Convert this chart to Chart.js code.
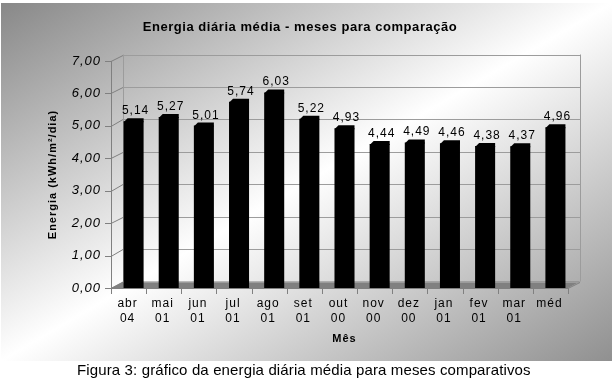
<!DOCTYPE html>
<html>
<head>
<meta charset="utf-8">
<script src="https://cdn.jsdelivr.net/npm/chart.js@4.4.0/dist/chart.umd.min.js"></script>
<style>
  body { margin: 0; background: #fff; }
  #wrap { position: relative; width: 615px; height: 379px; }
  #grafico { display: block; }
  #legenda {
    position: absolute; left: 77px; top: 361px;
    font: 15px "Liberation Sans", Arial, sans-serif; line-height: 17px; color: #000;
    letter-spacing: 0.13px; white-space: nowrap;
  }
</style>
</head>
<body>
<div id="wrap">
  <canvas id="grafico" width="615" height="379"></canvas>
  <div id="legenda">Figura 3: gráfico da energia diária média para meses comparativos</div>
</div>
<script>
// dados
const meses = ["abr", "mai", "jun", "jul", "ago", "set", "out", "nov", "dez", "jan", "fev", "mar", "méd"];
const anos = ["04", "01", "01", "01", "01", "01", "00", "00", "00", "01", "01", "01", ""];
const energia = [5.14, 5.27, 5.01, 5.74, 6.03, 5.22, 4.93, 4.44, 4.49, 4.46, 4.38, 4.37, 4.96];
const yMin = 0, yMax = 7, yPasso = 1;

const titulo = "Energia diária média - meses para comparação";
const fmt = (v) => v.toFixed(2).replace(".", ",");

Chart.defaults.font.family = "'Liberation Sans', Arial, sans-serif";
Chart.defaults.color = "#000";

const dx = 12, dy = -6.5; // profundidade do "3D"

const fundo3d = {
  id: "fundo3d",
  beforeDraw(chart) {
    const ctx = chart.ctx;
    ctx.save();
    ctx.translate(1, 3);
    ctx.scale(611, 358);
    const g = ctx.createLinearGradient(0, 0, 1, 1);
    g.addColorStop(0, "#888888");
    g.addColorStop(0.5, "#ffffff");
    g.addColorStop(1, "#909090");
    ctx.fillStyle = g;
    ctx.fillRect(0, 0, 1, 1);
    ctx.restore();
    ctx.letterSpacing = "1px";
  },
  beforeDatasetsDraw(chart) {
    const { ctx, chartArea: a, scales: { x, y } } = chart;
    const fl = a.left - 5, fr = a.right - 5; // plano da frente
    const base = y.getPixelForValue(yMin);
    const topo = y.getPixelForValue(yMax);
    const r = (v) => Math.round(v) + 0.5;
    ctx.save();
    ctx.lineWidth = 1;

    // chão
    ctx.fillStyle = "#808080";
    ctx.beginPath();
    ctx.moveTo(fl, base);
    ctx.lineTo(fr, base);
    ctx.lineTo(fr + dx, base + dy);
    ctx.lineTo(fl + dx, base + dy);
    ctx.closePath();
    ctx.fill();

    // grade da parede do fundo
    ctx.strokeStyle = "#9c9c9c";
    y.ticks.forEach((t) => {
      const py = y.getPixelForValue(t.value);
      ctx.beginPath();
      ctx.moveTo(fl + dx, r(py + dy));
      ctx.lineTo(fr + dx, r(py + dy));
      ctx.stroke();
    });
    ctx.beginPath();
    ctx.moveTo(r(fl + dx), topo + dy);
    ctx.lineTo(r(fl + dx), base + dy);
    ctx.moveTo(r(fr + dx), topo + dy);
    ctx.lineTo(r(fr + dx), base + dy);
    ctx.stroke();

    // parede lateral e eixo y da frente
    ctx.strokeStyle = "#808080";
    y.ticks.forEach((t) => {
      const py = y.getPixelForValue(t.value);
      ctx.beginPath();
      ctx.moveTo(fl - 6, r(py));
      ctx.lineTo(fl, r(py));
      ctx.lineTo(fl + dx, r(py + dy));
      ctx.stroke();
    });
    ctx.beginPath();
    ctx.moveTo(r(fl), topo);
    ctx.lineTo(r(fl), base);
    ctx.stroke();

    // eixo x da frente
    ctx.beginPath();
    ctx.moveTo(fl, r(base));
    ctx.lineTo(fr, r(base));
    ctx.lineTo(fr + dx, r(base + dy));
    const larg = a.width / meses.length;
    for (let i = 0; i <= meses.length; i++) {
      const px = r(a.left + i * larg - 5);
      ctx.moveTo(px, base);
      ctx.lineTo(px, base + 6);
    }
    ctx.stroke();
    ctx.restore();
  },
  afterDatasetsDraw(chart) {
    const ctx = chart.ctx;
    const meta = chart.getDatasetMeta(0);
    ctx.save();
    ctx.letterSpacing = "1px";
    ctx.font = "12px 'Liberation Sans', Arial, sans-serif";
    ctx.textAlign = "center";
    ctx.textBaseline = "alphabetic";
    meta.data.forEach((bar, i) => {
      const { x: bx, y: by, width: bw } = bar.getProps(["x", "y", "width"], true);
      ctx.fillStyle = "#000";
      ctx.beginPath();
      ctx.moveTo(bx - bw / 2, by + 1);
      ctx.lineTo(bx - bw / 2 + 4, by - 3);
      ctx.lineTo(bx + bw / 2, by - 3);
      ctx.lineTo(bx + bw / 2, by + 1);
      ctx.closePath();
      ctx.fill();
      ctx.fillText(fmt(energia[i]), bx + 2, by - 7);
    });
    ctx.restore();
  },
  afterDraw(chart) {
    const ctx = chart.ctx;
    ctx.save();
    ctx.letterSpacing = "0.55px";
    ctx.font = "bold 13px 'Liberation Sans', Arial, sans-serif";
    ctx.fillStyle = "#000";
    ctx.textAlign = "center";
    ctx.textBaseline = "middle";
    ctx.fillText(titulo, 300, 27);
    ctx.restore();
  },
};

new Chart(document.getElementById("grafico"), {
  type: "bar",
  data: {
    labels: meses.map((m, i) => (anos[i] ? [m, anos[i]] : [m])),
    datasets: [
      {
        data: energia,
        backgroundColor: "#000",
        borderWidth: 0,
        categoryPercentage: 1,
        barPercentage: 0.57,
      },
    ],
  },
  options: {
    responsive: false,
    animation: false,
    layout: { padding: { left: 0, right: 42, top: 61, bottom: 0 } },
    plugins: {
      legend: { display: false },
      title: { display: false },
      tooltip: { enabled: false },
    },
    scales: {
      x: {
        grid: { display: false, drawTicks: false },
        border: { display: false },
        ticks: {
          font: { size: 12, lineHeight: 1.25 },
          padding: 8,
          labelOffset: -6,
          maxRotation: 0,
          autoSkip: false,
        },
        title: {
          display: true,
          text: "Mês",
          font: { size: 11, weight: "bold" },
          padding: { top: 34.4, bottom: 33.4 },
        },
        afterFit: (s) => { s.height = 91; },
      },
      y: {
        min: yMin,
        max: yMax,
        grid: { display: false, drawTicks: false },
        border: { display: false },
        ticks: {
          stepSize: yPasso,
          font: { size: 13, style: "italic" },
          padding: 15,
          callback: (v) => fmt(v),
        },
        title: {
          display: true,
          text: "Energia (kWh/m²/dia)",
          font: { size: 11, weight: "bold" },
          padding: { top: 46, bottom: 0 },
        },
        afterFit: (s) => { s.width = 116; },
      },
    },
  },
  plugins: [fundo3d],
});
</script>
</body>
</html>
